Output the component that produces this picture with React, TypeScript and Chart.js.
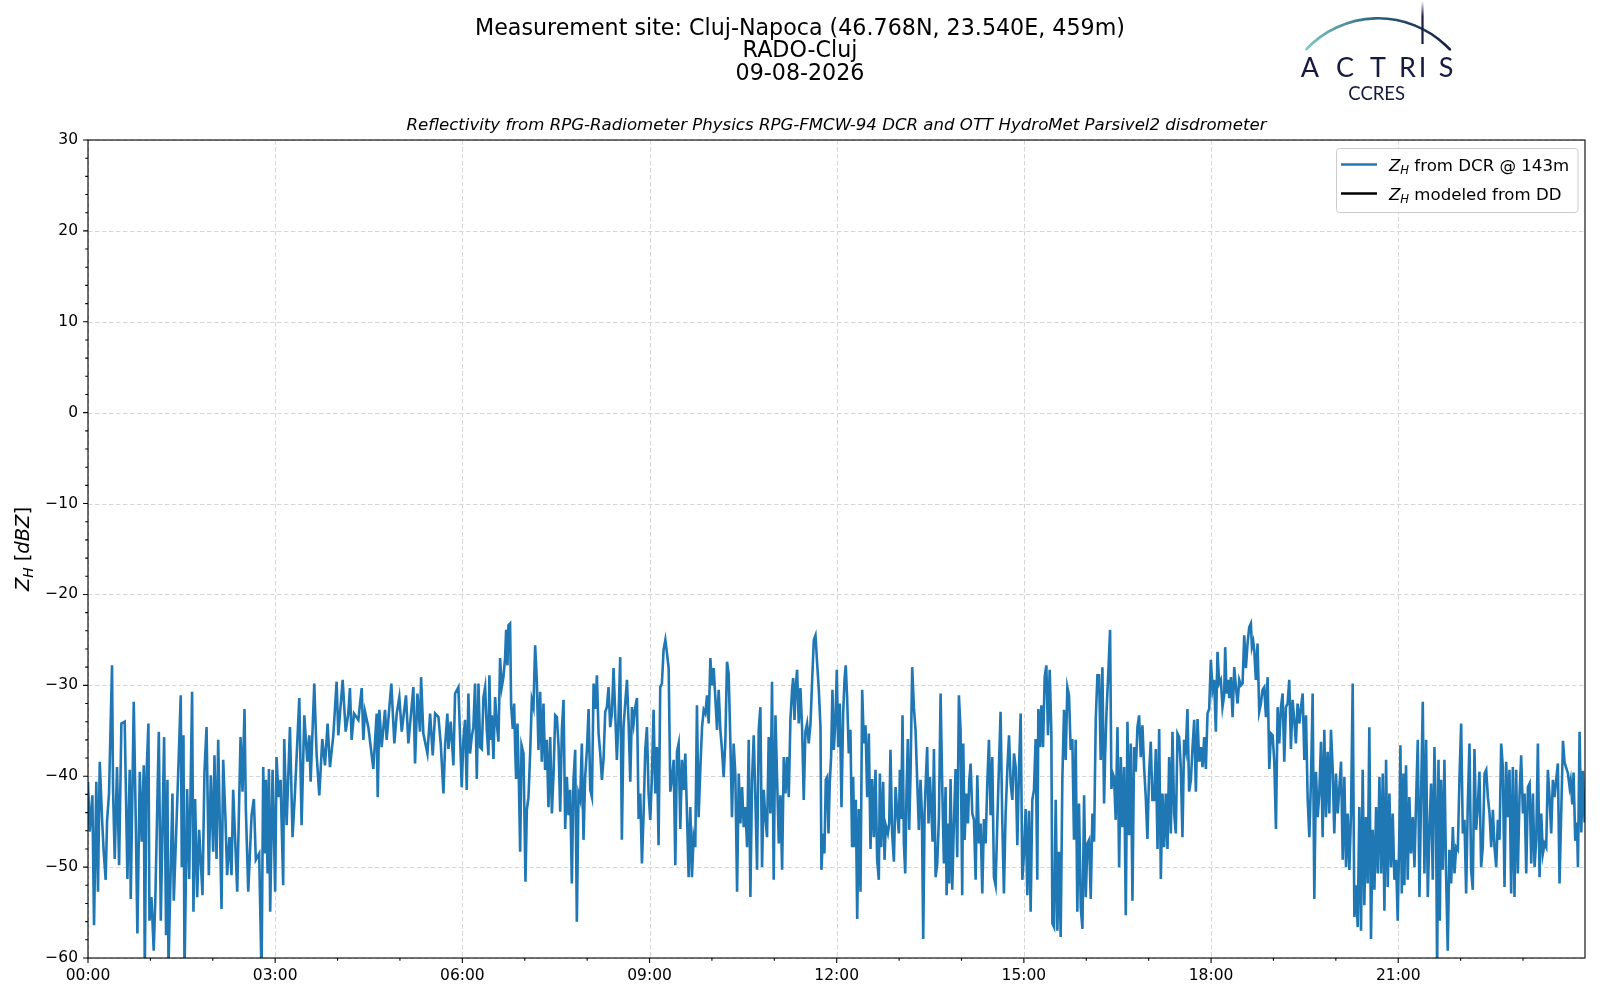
import { useEffect, useRef } from "react";
import { Chart, registerables } from "chart.js";

Chart.register(...registerables);

// time axis labels (every 3 hours), minor ticks every hour
const hourLabels: string[] = ["00:00", "03:00", "06:00", "09:00", "12:00", "15:00", "18:00", "21:00"];
const hourTicks: number[] = [
  0, 60, 120, 180, 240, 300, 360, 420, 480, 540, 600, 660,
  720, 780, 840, 900, 960, 1020, 1080, 1140, 1200, 1260, 1320, 1380,
];
const zhTicks: number[] = [-60, -50, -40, -30, -20, -10, 0, 10, 20, 30];

// DCR reflectivity at 143 m, minutes after 00:00 and dBZ, read in four pieces
const minutesA: number[] = [
  0.0, 1.6, 4.2, 5.8, 8.0, 9.6, 11.3, 13.8, 15.1, 17.0,
  18.3, 20.2, 23.1, 24.1, 25.7, 27.9, 29.9, 32.1, 35.3, 37.9,
  40.1, 41.1, 44.0, 45.9, 47.5, 49.8, 51.7, 53.6, 54.6, 56.2,
  58.1, 59.1, 61.0, 63.2, 64.8, 68.1, 70.0, 73.2, 75.1, 76.4,
  77.4, 81.2, 82.5, 85.7, 89.2, 90.2, 91.8, 92.8, 95.3, 97.3,
  100.1, 101.4, 103.0, 105.0, 106.9, 110.1, 112.0, 114.0, 116.2, 118.1,
  120.4, 121.6, 123.6, 125.2, 128.4, 130.0, 132.2, 133.8, 136.1, 138.0,
  139.6, 143.5, 146.7, 148.6, 150.5, 151.8, 154.1, 157.3, 159.5, 161.4,
  164.6, 166.9, 168.5, 170.1, 171.1, 172.7, 174.0, 175.2, 177.5, 180.0,
  181.3, 183.3, 185.2, 187.7, 188.7, 191.0, 194.2, 196.7, 199.0, 203.2,
  205.4, 208.0, 210.9, 212.8, 214.1, 217.6, 219.8, 222.4, 225.3, 227.9,
  230.4, 232.7, 235.9, 239.1, 240.7, 244.9, 247.8, 250.3, 251.9, 253.5,
  255.8, 260.0, 263.2, 264.8, 266.4, 269.6, 274.4, 277.6, 278.6, 280.2,
  282.4, 285.6, 287.2, 291.7, 294.6, 296.9, 299.4, 301.7, 305.8, 308.1,
  312.9, 314.5, 316.8, 319.3, 320.3, 322.5, 326.4, 329.0, 331.5, 333.8,
  337.0, 339.2, 341.8, 343.4, 345.6, 346.6, 348.8, 351.4, 353.0, 356.2,
];
const zhA: number[] = [
  -40.6, -46.1, -42.1, -56.4, -40.6, -52.7, -38.4, -45.4, -48.3, -51.4,
  -45.0, -41.9, -27.8, -41.5, -49.1, -39.0, -49.8, -34.2, -34.0, -51.3,
  -39.3, -53.5, -31.8, -44.7, -57.3, -39.5, -47.2, -38.8, -62.0, -40.1,
  -34.2, -55.9, -53.3, -59.2, -53.3, -35.1, -55.9, -35.7, -57.5, -40.4,
  -61.0, -41.9, -53.7, -43.2, -31.1, -50.0, -35.5, -62.0, -41.4, -51.3,
  -30.7, -54.9, -42.5, -53.3, -45.9, -53.1, -39.5, -34.6, -50.9, -39.9,
  -48.3, -37.7, -49.1, -36.0, -54.6, -38.2, -44.7, -50.9, -46.7, -50.9,
  -41.5, -52.7, -35.7, -41.7, -32.6, -43.6, -52.7, -44.3, -42.5, -49.2,
  -48.5, -62.0, -39.0, -48.5, -40.4, -50.7, -39.2, -54.9, -39.3, -52.7,
  -37.9, -42.3, -40.4, -52.0, -35.9, -45.4, -34.6, -46.7, -41.9, -31.4,
  -45.4, -33.3, -38.4, -35.5, -40.6, -29.8, -37.5, -42.1, -35.9, -38.8,
  -34.2, -39.0, -35.5, -29.6, -35.5, -29.4, -35.1, -33.1, -30.3, -36.0,
  -33.1, -33.8, -30.3, -36.0, -32.9, -34.6, -39.2, -33.1, -42.3, -32.7,
  -36.8, -32.7, -36.0, -29.8, -36.4, -33.1, -31.3, -35.1, -31.1, -36.4,
  -30.2, -38.6, -30.9, -35.1, -29.1, -35.3, -37.5, -33.1, -37.7, -33.1,
  -33.5, -36.4, -41.9, -36.6, -33.1, -37.0, -34.0, -38.8, -30.9, -30.2,
];

const minutesB: number[] = [
  359.4, 361.0, 362.6, 364.2, 365.8, 367.4, 369.0, 370.6, 372.2, 373.9,
  375.5, 377.1, 378.7, 380.3, 381.9, 383.5, 385.1, 386.0, 387.3, 388.3,
  389.9, 391.5, 393.1, 394.7, 396.3, 397.9, 399.5, 401.1, 402.1, 403.4,
  404.3, 405.9, 406.9, 408.5, 409.8, 410.8, 411.7, 413.0, 414.3, 415.6,
  416.9, 418.8, 420.7, 422.0, 423.6, 425.2, 426.8, 428.4, 430.0, 431.6,
  433.2, 434.8, 436.4, 438.0, 439.6, 441.2, 442.8, 444.5, 446.1, 447.7,
  449.3, 450.9, 452.5, 454.1, 455.7, 457.3, 458.9, 460.5, 462.1, 463.7,
  465.3, 466.9, 468.5, 470.1, 471.7, 473.3, 474.9, 476.5, 478.1, 479.8,
  481.4, 483.0, 484.6, 486.2, 487.8, 489.4, 491.0, 492.6, 494.2, 495.8,
  497.4, 499.0, 500.6, 502.2, 503.8, 505.4, 507.0, 508.6, 510.2, 511.8,
  513.4, 515.0, 516.6, 518.3, 519.9, 521.5, 523.1, 524.7, 526.3, 527.9,
  529.5, 531.1, 532.7, 534.3, 535.9, 537.5, 539.1, 540.7, 542.3, 543.9,
  545.5, 547.1, 548.7, 550.3, 551.9, 553.5, 555.2, 556.8, 558.4, 560.0,
  561.6, 563.2, 564.8, 566.4, 568.0, 569.6, 571.2, 572.8, 574.4, 576.0,
  577.6, 579.2, 580.8, 582.4, 584.0, 585.6, 587.2, 588.9, 590.5, 592.1,
  593.7, 595.3, 596.9, 598.5, 600.1, 601.7, 603.3, 604.9, 606.5, 608.1,
  609.7, 611.3, 612.9, 614.5, 616.1, 617.7, 619.3, 620.9, 622.5, 624.2,
  625.8, 627.4, 629.0, 630.6, 632.2, 633.8, 635.4, 637.0, 638.6, 640.2,
  641.8, 643.4, 645.0, 646.6, 648.2, 649.8, 651.4, 653.0, 654.6, 656.2,
  657.8, 659.4, 661.1, 662.7, 664.3, 665.9, 667.5, 669.1, 670.7, 672.3,
  673.9, 675.5, 677.1, 678.1, 679.4, 680.6, 681.9, 683.5, 685.1, 686.7,
  688.3, 689.9, 691.5, 693.1, 694.8, 696.4, 698.0, 699.6, 701.2, 702.8,
];
const zhB: number[] = [
  -41.2, -36.0, -33.8, -41.5, -30.9, -37.5, -35.7, -34.6, -29.8, -40.3,
  -29.8, -36.8, -37.0, -31.3, -30.2, -34.9, -37.7, -28.9, -36.0, -33.3,
  -38.1, -31.3, -34.2, -36.2, -27.0, -30.2, -29.1, -27.0, -23.9, -27.8,
  -23.4, -23.2, -32.2, -34.8, -32.0, -37.0, -40.3, -34.2, -40.3, -48.3,
  -36.6, -37.5, -51.6, -43.7, -42.3, -37.5, -31.6, -32.4, -25.6, -29.4,
  -37.1, -30.7, -38.4, -32.0, -39.3, -36.0, -43.4, -35.7, -44.1, -39.7,
  -33.3, -33.5, -36.6, -43.9, -34.9, -31.6, -45.8, -40.1, -44.3, -41.5,
  -51.8, -40.4, -37.1, -56.0, -41.9, -42.6, -36.4, -47.0, -40.1, -37.1,
  -32.6, -41.5, -42.3, -29.8, -32.6, -28.9, -35.3, -37.5, -40.4, -38.1,
  -32.9, -32.4, -30.2, -34.6, -33.1, -28.1, -33.1, -38.2, -33.5, -26.9,
  -47.0, -34.6, -32.0, -29.4, -34.2, -40.6, -32.4, -34.2, -32.4, -31.4,
  -44.7, -41.9, -49.6, -44.1, -37.1, -34.6, -41.9, -44.8, -40.1, -32.7,
  -41.9, -36.8, -47.6, -30.2, -29.8, -26.1, -25.0, -26.5, -28.1, -41.7,
  -40.3, -38.2, -49.8, -37.3, -36.4, -45.8, -38.2, -41.5, -37.5, -44.1,
  -51.1, -43.4, -51.1, -46.7, -47.8, -32.2, -44.5, -39.0, -34.6, -32.7,
  -33.1, -31.1, -34.2, -27.0, -30.0, -28.1, -31.4, -34.9, -30.5, -34.9,
  -37.1, -40.1, -36.2, -27.4, -28.7, -36.0, -44.5, -36.4, -39.7, -52.7,
  -39.7, -45.2, -41.2, -45.6, -43.4, -47.8, -36.0, -53.3, -40.4, -35.5,
  -42.6, -50.3, -34.9, -32.4, -50.0, -41.5, -44.5, -46.7, -35.7, -44.1,
  -29.6, -51.4, -33.3, -40.4, -47.4, -42.1, -50.3, -37.9, -41.9, -37.9,
  -42.3, -33.7, -30.5, -29.2, -33.8, -30.2, -28.3, -34.2, -30.3, -34.6,
  -42.6, -35.1, -34.2, -36.4, -34.2, -29.4, -25.0, -24.5, -27.6, -30.5,
];

const minutesC: number[] = [
  704.4, 705.3, 706.9, 708.2, 709.5, 710.8, 712.1, 713.3, 714.6, 715.9,
  717.2, 718.8, 720.1, 721.4, 723.0, 724.6, 726.2, 727.5, 728.7, 730.0,
  731.6, 733.2, 734.8, 735.8, 737.1, 738.4, 739.7, 741.3, 742.9, 744.5,
  746.1, 747.7, 749.3, 750.9, 752.5, 754.1, 755.7, 757.3, 758.9, 760.5,
  761.5, 762.8, 764.7, 766.0, 767.2, 769.2, 770.5, 771.7, 773.3, 775.0,
  776.6, 778.2, 779.8, 780.7, 782.0, 783.3, 784.6, 785.9, 787.1, 788.4,
  789.7, 791.0, 792.6, 794.2, 795.8, 797.4, 799.0, 800.6, 801.9, 803.2,
  804.5, 805.8, 807.0, 808.3, 809.6, 810.9, 812.2, 813.5, 815.1, 816.7,
  818.3, 819.9, 821.5, 823.1, 824.7, 825.7, 826.9, 828.2, 829.5, 831.1,
  832.7, 834.3, 835.9, 837.5, 839.1, 840.7, 841.7, 843.0, 844.6, 846.2,
  847.5, 848.8, 850.4, 852.0, 853.6, 855.2, 856.8, 858.4, 860.0, 861.6,
  863.2, 864.8, 866.4, 868.0, 869.6, 871.2, 872.8, 874.4, 876.0, 877.6,
  879.2, 880.8, 882.4, 884.1, 885.7, 887.3, 888.9, 890.5, 892.1, 893.7,
  895.3, 896.9, 898.5, 900.1, 901.7, 903.3, 904.9, 906.5, 908.1, 909.7,
  911.3, 912.9, 913.9, 915.5, 916.8, 918.4, 920.0, 921.6, 923.2, 924.8,
  926.4, 927.4, 929.0, 930.6, 932.2, 933.8, 935.4, 937.0, 938.6, 940.2,
  941.8, 943.4, 945.0, 946.6, 948.2, 949.8, 951.4, 953.0, 954.7, 956.3,
  957.9, 959.5, 961.1, 962.7, 964.3, 965.9, 967.5, 969.1, 970.7, 972.3,
  973.9, 975.5, 977.1, 978.1, 979.4, 981.0, 982.9, 984.2, 985.5, 986.7,
  988.3, 990.0, 991.6, 993.2, 994.8, 996.4, 998.0, 999.6, 1001.2, 1002.8,
  1004.4, 1006.0, 1007.6, 1009.2, 1010.8, 1012.4, 1014.0, 1015.6, 1017.2, 1018.8,
  1020.4, 1022.0, 1023.6, 1025.3, 1026.9, 1028.5, 1030.1, 1031.7, 1033.3, 1034.9,
  1036.5, 1038.1, 1039.7, 1041.3, 1042.9, 1044.5, 1046.1, 1047.7, 1049.3,
];
const zhC: number[] = [
  -34.6, -50.3, -46.3, -48.5, -40.4, -40.1, -46.3, -40.8, -37.9, -30.5,
  -37.1, -33.8, -28.3, -36.8, -32.0, -43.4, -33.1, -29.4, -27.8, -31.3,
  -37.5, -34.9, -47.8, -40.1, -47.8, -42.6, -55.7, -43.6, -52.7, -30.5,
  -36.4, -34.4, -42.3, -35.3, -48.0, -40.3, -46.7, -39.3, -49.2, -51.4,
  -39.7, -47.8, -40.6, -49.2, -45.4, -46.3, -45.2, -37.1, -46.3, -49.4,
  -41.2, -44.1, -46.3, -39.3, -44.7, -33.3, -47.4, -50.7, -41.9, -35.9,
  -45.9, -39.7, -28.0, -32.4, -34.9, -40.4, -45.9, -40.4, -44.1, -57.9,
  -44.1, -40.1, -36.8, -45.2, -40.1, -43.4, -47.2, -37.0, -51.1, -49.6,
  -44.5, -30.9, -41.2, -49.6, -41.2, -53.1, -45.2, -51.8, -40.3, -52.5,
  -45.2, -39.2, -48.9, -31.1, -34.9, -53.1, -36.4, -47.0, -41.9, -45.2,
  -40.4, -38.6, -44.1, -44.8, -51.4, -39.9, -47.4, -45.2, -52.9, -44.7,
  -47.4, -40.8, -36.0, -44.3, -37.9, -51.1, -52.0, -45.2, -39.0, -32.9,
  -44.8, -52.9, -44.3, -39.2, -35.5, -40.8, -42.6, -37.5, -39.0, -47.6,
  -39.2, -33.1, -51.4, -48.5, -43.6, -53.1, -43.8, -54.9, -42.6, -41.5,
  -35.9, -51.4, -32.6, -36.8, -32.2, -36.8, -29.1, -27.8, -35.5, -28.3,
  -35.1, -56.2, -56.6, -42.6, -57.0, -48.3, -57.7, -40.3, -32.7, -38.2,
  -30.2, -31.1, -37.1, -35.9, -47.0, -36.0, -54.9, -43.0, -54.4, -56.8,
  -42.1, -53.3, -47.4, -47.0, -53.5, -44.1, -47.2, -33.8, -28.9, -28.9,
  -38.2, -28.0, -43.0, -37.9, -33.1, -29.1, -23.9, -41.4, -39.7, -40.1,
  -44.8, -34.6, -50.0, -37.9, -45.6, -39.0, -55.3, -34.0, -46.5, -36.4,
  -53.7, -36.8, -39.5, -34.6, -33.3, -37.9, -34.4, -39.0, -42.3, -46.9,
  -39.7, -36.2, -42.6, -42.6, -37.0, -48.0, -34.8, -51.3, -41.9, -47.8,
  -41.9, -48.0, -37.9, -46.3, -35.1, -44.1, -46.3, -35.3, -35.7,
];

const minutesD: number[] = [
  1050.9, 1052.5, 1054.1, 1055.7, 1057.3, 1058.9, 1060.6, 1062.2, 1063.8, 1065.4,
  1067.0, 1068.6, 1070.2, 1071.8, 1073.4, 1075.0, 1076.6, 1078.2, 1079.8, 1081.4,
  1083.0, 1084.6, 1086.2, 1087.8, 1089.4, 1091.0, 1092.6, 1093.6, 1094.9, 1096.5,
  1097.5, 1099.1, 1100.7, 1102.3, 1103.9, 1105.5, 1107.1, 1108.7, 1110.3, 1111.9,
  1113.5, 1115.1, 1116.7, 1118.3, 1119.3, 1120.6, 1121.5, 1123.1, 1124.7, 1126.3,
  1127.9, 1129.5, 1131.1, 1132.8, 1134.4, 1136.0, 1137.6, 1139.2, 1140.8, 1142.4,
  1144.0, 1145.6, 1147.2, 1148.8, 1150.4, 1152.0, 1153.6, 1155.2, 1156.8, 1158.4,
  1160.0, 1161.6, 1163.2, 1164.9, 1166.5, 1168.1, 1169.7, 1171.3, 1172.9, 1174.5,
  1176.1, 1177.7, 1179.3, 1180.9, 1182.5, 1184.1, 1185.7, 1187.3, 1188.9, 1190.5,
  1192.1, 1193.7, 1195.3, 1196.9, 1198.5, 1200.1, 1201.8, 1203.4, 1205.0, 1206.6,
  1208.2, 1209.8, 1211.4, 1213.0, 1214.6, 1216.2, 1217.8, 1219.4, 1221.0, 1222.6,
  1224.2, 1225.8, 1227.4, 1229.0, 1230.6, 1232.2, 1233.8, 1235.4, 1237.1, 1238.7,
  1240.3, 1241.9, 1243.5, 1245.1, 1246.7, 1248.3, 1249.9, 1251.5, 1253.1, 1254.7,
  1256.3, 1257.9, 1259.5, 1261.1, 1262.1, 1263.4, 1265.0, 1265.9, 1267.5, 1269.1,
  1270.7, 1272.3, 1274.0, 1275.6, 1277.2, 1278.8, 1280.4, 1282.0, 1283.6, 1285.2,
  1286.8, 1288.4, 1290.0, 1291.6, 1293.2, 1294.8, 1296.4, 1297.4, 1298.7, 1300.0,
  1301.2, 1302.8, 1304.4, 1306.0, 1307.6, 1309.2, 1310.9, 1312.5, 1314.1, 1315.7,
  1317.3, 1318.9, 1320.5, 1322.1, 1323.7, 1325.3, 1326.9, 1328.5, 1330.1, 1331.7,
  1333.3, 1334.9, 1336.5, 1338.1, 1339.7, 1341.3, 1343.0, 1344.6, 1346.2, 1347.8,
  1349.4, 1351.0, 1352.6, 1354.2, 1355.8, 1357.4, 1359.0, 1360.6, 1362.2, 1363.8,
  1365.4, 1367.0, 1368.6, 1370.2, 1371.8, 1373.4, 1375.0, 1376.6, 1378.2, 1379.9,
  1381.5, 1383.1, 1384.7, 1386.3, 1387.9, 1389.5, 1391.1, 1392.7, 1394.3, 1395.9,
  1397.5, 1399.1, 1400.7, 1402.3, 1403.9, 1405.5, 1407.1, 1408.7, 1410.3, 1411.9,
  1413.5, 1415.1, 1418.4, 1420.0, 1423.2, 1424.8, 1425.8, 1427.4, 1428.6, 1430.2,
  1431.9, 1432.8, 1434.4, 1436.0, 1437.6, 1439.2,
];
const zhD: number[] = [
  -39.0, -46.7, -36.0, -37.1, -32.6, -41.7, -40.4, -36.8, -33.8, -41.7,
  -33.7, -38.4, -36.8, -39.0, -35.7, -39.2, -33.1, -32.6, -27.2, -30.5,
  -29.4, -35.1, -26.3, -29.8, -29.4, -32.4, -31.1, -25.8, -30.9, -29.4,
  -31.4, -29.1, -33.5, -28.0, -30.2, -32.0, -29.4, -30.0, -29.8, -24.5,
  -28.1, -25.4, -23.6, -23.2, -25.8, -25.2, -26.1, -29.4, -25.4, -32.9,
  -32.0, -30.5, -30.2, -33.5, -29.1, -39.2, -35.3, -35.5, -38.4, -45.8,
  -32.4, -36.4, -32.4, -30.9, -38.4, -32.4, -32.0, -29.4, -37.0, -31.6,
  -33.8, -36.4, -32.0, -34.2, -32.4, -30.9, -38.2, -33.3, -42.5, -46.7,
  -40.4, -30.9, -53.5, -39.5, -44.5, -41.9, -36.2, -46.7, -34.9, -44.5,
  -37.3, -44.1, -34.9, -39.0, -46.3, -39.7, -44.1, -41.2, -38.4, -49.2,
  -40.1, -50.0, -44.1, -50.3, -44.1, -29.8, -55.5, -52.0, -56.6, -43.4,
  -57.0, -39.3, -54.2, -44.5, -51.8, -34.6, -57.9, -45.9, -52.5, -43.4,
  -50.7, -40.1, -50.7, -39.7, -54.8, -38.2, -52.2, -41.9, -50.0, -44.1,
  -51.4, -49.2, -55.9, -45.9, -36.6, -52.9, -39.7, -52.0, -38.8, -51.4,
  -42.3, -48.5, -44.5, -50.0, -42.6, -36.0, -53.3, -41.9, -31.8, -50.7,
  -36.0, -53.3, -45.9, -40.8, -51.4, -36.8, -45.2, -62.0, -38.2, -55.9,
  -40.4, -50.3, -38.2, -50.7, -59.2, -48.1, -51.8, -45.6, -50.7, -47.8,
  -48.1, -40.1, -34.2, -46.3, -44.8, -52.9, -43.0, -36.4, -50.3, -52.5,
  -37.0, -45.9, -43.4, -39.5, -50.0, -47.8, -39.7, -39.3, -42.3, -44.1,
  -47.8, -43.7, -47.8, -50.0, -44.8, -47.0, -36.4, -39.0, -52.2, -38.4,
  -44.5, -39.3, -52.9, -39.0, -53.3, -39.3, -50.7, -42.3, -37.7, -44.1,
  -41.9, -50.7, -41.2, -40.8, -49.6, -41.9, -50.0, -47.0, -36.4, -51.1,
  -44.1, -48.5, -47.4, -47.8, -39.3, -42.3, -46.3, -40.4, -42.3, -40.4,
  -38.6, -51.8, -36.1, -38.5, -39.7, -41.2, -40.5, -43.1, -39.6, -47.1,
  -45.1, -50.0, -35.1, -46.2, -39.4, -45.1,
];

// reflectivity modeled from the disdrometer: no values on this day
const minutesDD: number[] = [];
const zhDD: number[] = [];

const toPoints = (t: number[], v: number[]) => t.map((m, i) => ({ x: m, y: v[i] }));

const dcrPoints = [
  ...toPoints(minutesA, zhA),
  ...toPoints(minutesB, zhB),
  ...toPoints(minutesC, zhC),
  ...toPoints(minutesD, zhD),
];

const FONT = '"DejaVu Sans", sans-serif';
const BLUE = "#1f77b4";

type Part = { text: string; italic?: boolean; sub?: boolean };

// draws text with simple mathtext style subscript, returns width
function drawParts(ctx: CanvasRenderingContext2D, parts: Part[], x: number, y: number, size: number, measureOnly = false) {
  let cx = x;
  for (const p of parts) {
    const s = p.sub ? size * 0.7 : size;
    ctx.font = `${p.italic ? "italic " : ""}${s}px ${FONT}`;
    if (!measureOnly) ctx.fillText(p.text, cx, p.sub ? y + size * 0.22 : y);
    cx += ctx.measureText(p.text).width;
  }
  return cx - x;
}

const mplPlugin = {
  id: "mplLook",
  beforeDatasetsDraw(chart: any) {
    const { ctx, chartArea: a, scales } = chart;
    ctx.save();
    ctx.strokeStyle = "#d6d6d6";
    ctx.lineWidth = 1;
    ctx.setLineDash([4.5, 2.5]);
    hourTicks.filter((m) => m % 180 === 0).forEach((m) => {
      const px = Math.round(scales.x.getPixelForValue(m)) + 0.5;
      ctx.beginPath();
      ctx.moveTo(px, a.top);
      ctx.lineTo(px, a.bottom);
      ctx.stroke();
    });
    zhTicks.forEach((v) => {
      const py = Math.round(scales.y.getPixelForValue(v)) + 0.5;
      ctx.beginPath();
      ctx.moveTo(a.left, py);
      ctx.lineTo(a.right, py);
      ctx.stroke();
    });
    ctx.restore();
  },
  afterDatasetsDraw(chart: any) {
    const { ctx, chartArea: a, scales } = chart;
    ctx.save();
    ctx.strokeStyle = "#000";
    ctx.lineWidth = 1.1;
    ctx.setLineDash([]);
    ctx.strokeRect(a.left, a.top, a.right - a.left, a.bottom - a.top);
    ctx.beginPath();
    hourTicks.forEach((m) => {
      const px = scales.x.getPixelForValue(m);
      const len = m % 180 === 0 ? 4.9 : 2.8;
      ctx.moveTo(px, a.bottom);
      ctx.lineTo(px, a.bottom + len);
    });
    for (let v = -60; v <= 30; v += 2) {
      const py = scales.y.getPixelForValue(v);
      const len = v % 10 === 0 ? 4.9 : 2.8;
      ctx.moveTo(a.left, py);
      ctx.lineTo(a.left - len, py);
    }
    ctx.stroke();
    ctx.restore();
  },
  afterDraw(chart: any) {
    const { ctx, chartArea: a } = chart;
    ctx.save();
    ctx.fillStyle = "#000";

    // figure title
    ctx.textAlign = "center";
    ctx.textBaseline = "middle";
    ctx.font = `22.2px ${FONT}`;
    ctx.fillText("Measurement site: Cluj-Napoca (46.768N, 23.540E, 459m)", 800, 29);
    ctx.fillText("RADO-Cluj", 800, 51.5);
    ctx.fillText("09-08-2026", 800, 74);
    ctx.font = `italic 16.6px ${FONT}`;
    ctx.fillText(
      "Reflectivity from RPG-Radiometer Physics RPG-FMCW-94 DCR and OTT HydroMet Parsivel2 disdrometer",
      (a.left + a.right) / 2,
      126
    );

    // y axis label
    ctx.textAlign = "left";
    ctx.textBaseline = "alphabetic";
    const yParts: Part[] = [
      { text: "Z", italic: true },
      { text: "H", italic: true, sub: true },
      { text: " [" },
      { text: "dBZ", italic: true },
      { text: "]" },
    ];
    const ySize = 19.5;
    const yw = drawParts(ctx, yParts, 0, 0, ySize, true);
    ctx.save();
    ctx.translate(29, (a.top + a.bottom) / 2);
    ctx.rotate(-Math.PI / 2);
    drawParts(ctx, yParts, -yw / 2, 0, ySize);
    ctx.restore();

    // legend
    const lx = 1336.5, ly = 148.5, lw = 241.5, lh = 64;
    ctx.beginPath();
    ctx.roundRect(lx, ly, lw, lh, 3);
    ctx.fillStyle = "rgba(255,255,255,0.8)";
    ctx.fill();
    ctx.strokeStyle = "#cccccc";
    ctx.lineWidth = 1;
    ctx.stroke();
    const rows: { color: string; parts: Part[]; y: number }[] = [
      { color: BLUE, y: 164.5, parts: [{ text: "Z", italic: true }, { text: "H", italic: true, sub: true }, { text: " from DCR @ 143m" }] },
      { color: "#000", y: 193.5, parts: [{ text: "Z", italic: true }, { text: "H", italic: true, sub: true }, { text: " modeled from DD" }] },
    ];
    rows.forEach((r) => {
      ctx.strokeStyle = r.color;
      ctx.lineWidth = 2.6;
      ctx.beginPath();
      ctx.moveTo(1341, r.y);
      ctx.lineTo(1377, r.y);
      ctx.stroke();
      ctx.fillStyle = "#000";
      drawParts(ctx, r.parts, 1389, r.y + 6, 16.6);
    });

    // ACTRIS logo
    const navy = "#161a3f";
    const grad = ctx.createLinearGradient(1306, 0, 1452, 0);
    grad.addColorStop(0, "#7cc9c4");
    grad.addColorStop(0.5, "#2a5f78");
    grad.addColorStop(1, navy);
    ctx.strokeStyle = grad;
    ctx.lineWidth = 2.6;
    ctx.lineCap = "round";
    ctx.beginPath();
    ctx.arc(1378, 116.7, 98.4, (-136.6 * Math.PI) / 180, (-43.1 * Math.PI) / 180);
    ctx.stroke();
    const vgrad = ctx.createLinearGradient(0, 1, 0, 45);
    vgrad.addColorStop(0, "rgba(22,26,63,0)");
    vgrad.addColorStop(0.35, navy);
    vgrad.addColorStop(1, navy);
    ctx.strokeStyle = vgrad;
    ctx.lineWidth = 2.2;
    ctx.lineCap = "butt";
    ctx.beginPath();
    ctx.moveTo(1422.5, 1);
    ctx.lineTo(1422.5, 44);
    ctx.stroke();
    ctx.fillStyle = navy;
    ctx.textAlign = "center";
    ctx.textBaseline = "alphabetic";
    ctx.font = `27px Lato, ${FONT}`;
    const letters: [string, number][] = [["A", 1310], ["C", 1345], ["T", 1378], ["R", 1407.5], ["I", 1422.5], ["S", 1446]];
    letters.forEach(([ch, x]) => ctx.fillText(ch, x, 77));
    ctx.font = `18.5px Lato, ${FONT}`;
    ctx.fillText("CCRES", 1376.7, 99.5);
    ctx.restore();
  },
};

const App: React.FC = () => {
  const chartRef = useRef<HTMLCanvasElement | null>(null);

  useEffect(() => {
    const chart = new Chart(chartRef.current!, {
      type: "line",
      data: {
        datasets: [
          {
            label: "ZH from DCR @ 143m",
            data: dcrPoints,
            borderColor: BLUE,
            backgroundColor: BLUE,
            borderWidth: 2.6,
            pointRadius: 0,
            tension: 0,
          },
          {
            label: "ZH modeled from DD",
            data: toPoints(minutesDD, zhDD),
            borderColor: "#000",
            backgroundColor: "#000",
            borderWidth: 2.6,
            pointRadius: 0,
          },
        ],
      },
      options: {
        responsive: false,
        animation: false,
        devicePixelRatio: 1,
        events: [],
        layout: { padding: { left: 8, right: 15, top: 140, bottom: 0 } },
        plugins: {
          legend: { display: false },
          title: { display: false },
          tooltip: { enabled: false },
        },
        scales: {
          x: {
            type: "linear",
            min: 0,
            max: 1439.6,
            grid: { display: false, drawTicks: false },
            border: { display: false },
            afterBuildTicks: (s: any) => {
              s.ticks = hourTicks.map((m) => ({ value: m }));
            },
            ticks: {
              autoSkip: false,
              maxRotation: 0,
              padding: 9,
              color: "#000",
              font: { family: FONT, size: 15.5 },
              callback: (v: any) => {
                const m = Math.round(Number(v));
                return m % 180 === 0 ? hourLabels[m / 180] ?? "" : "";
              },
            },
            afterFit: (s: any) => {
              s.height = 42;
            },
          },
          y: {
            min: -60,
            max: 30,
            grid: { display: false, drawTicks: false },
            border: { display: false },
            ticks: {
              stepSize: 10,
              padding: 10,
              color: "#000",
              font: { family: FONT, size: 15.5 },
              callback: (v: any) => String(v).replace("-", "\u2212"),
            },
            afterFit: (s: any) => {
              s.width = 80;
            },
          },
        },
      },
      plugins: [mplPlugin],
    } as any);

    return () => {
      chart.destroy();
    };
  }, []);

  return (
    <div style={{ position: "absolute", left: 0, top: 0, width: 1600, height: 1000, background: "#fff" }}>
      <canvas ref={chartRef} width={1600} height={1000} style={{ width: 1600, height: 1000, display: "block" }} />
    </div>
  );
};

export default App;
